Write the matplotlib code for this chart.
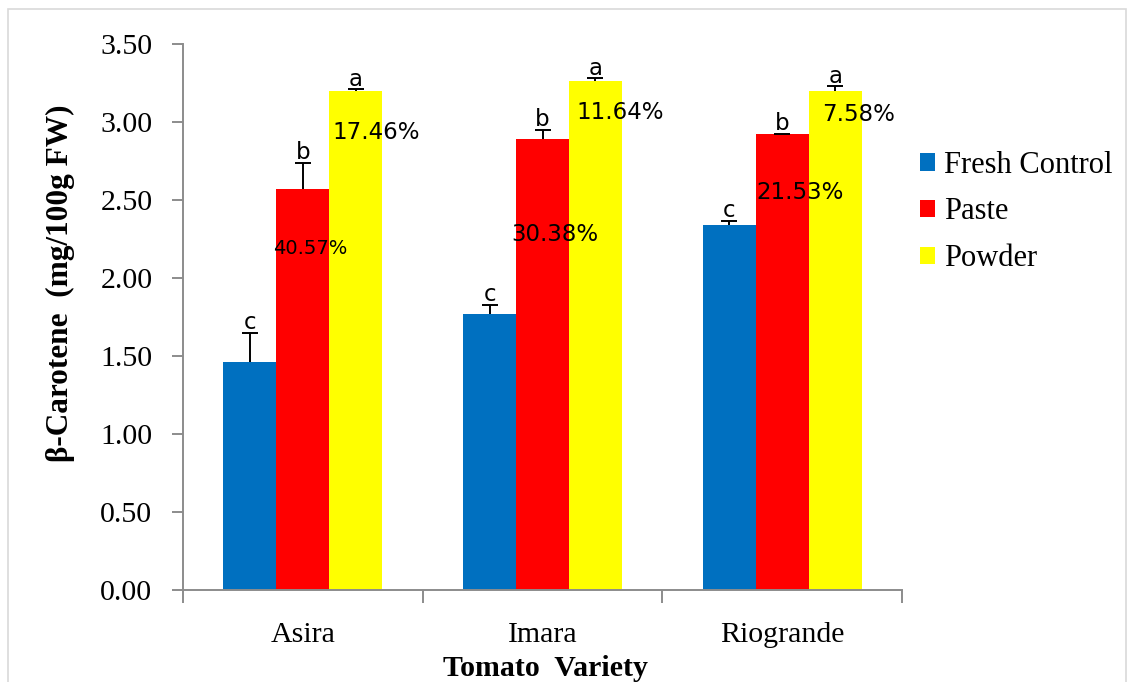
import matplotlib
matplotlib.use("Agg")
import matplotlib.pyplot as plt
import numpy as np
from matplotlib.patches import Rectangle

# Tomato varieties and treatments
varieties = ["Asira", "Imara", "Riogrande"]
treatments = ["Fresh Control", "Paste", "Powder"]

# Beta-carotene content (mg/100g FW), one list per treatment
fresh = [1.46, 1.77, 2.34]
paste = [2.57, 2.89, 2.92]
powder = [3.20, 3.26, 3.20]

# Standard errors (upper bars only)
fresh_err = [0.19, 0.06, 0.025]
paste_err = [0.17, 0.06, 0.005]
powder_err = [0.01, 0.02, 0.03]

# Significance letters
fresh_letters = ["c", "c", "c"]
paste_letters = ["b", "b", "b"]
powder_letters = ["a", "a", "a"]

# Percentage annotations: text, x (category units), y (data units), size
pct_labels = ["40.57%", "17.46%", "30.38%", "11.64%", "21.53%", "7.58%"]
pct_x = [0.03, 0.304, 1.05, 1.325, 2.075, 2.317]
pct_y = [2.19, 2.93, 2.28, 3.06, 2.545, 3.045]
pct_size = [14, 16.5, 16.5, 16.5, 16.5, 16.5]

yticks = [0.0, 0.5, 1.0, 1.5, 2.0, 2.5, 3.0, 3.5]

colors = ["#0070C0", "#FF0000", "#FFFF00"]
serif = ["Liberation Serif", "DejaVu Serif"]
tick_font = ["DejaVu Serif Condensed", "Liberation Serif", "DejaVu Serif"]

fig = plt.figure(figsize=(11.28, 6.82), dpi=100)
ax = fig.add_axes([183 / 1128, 1 - 590 / 682, (902 - 183) / 1128, (590 - 44) / 682])

x = np.arange(len(varieties))
width = 0.221
series = [(fresh, fresh_err, fresh_letters), (paste, paste_err, paste_letters),
          (powder, powder_err, powder_letters)]

for i, (vals, errs, letters) in enumerate(series):
    pos = x + (i - 1) * width
    ax.bar(pos, vals, width, color=colors[i], label=treatments[i], zorder=2)
    eb = ax.errorbar(pos, vals, yerr=[np.zeros(len(vals)), errs], fmt="none",
                     ecolor="black", elinewidth=1.4, capsize=6, capthick=1.4,
                     zorder=3)
    # keep only the upper cap
    eb[1][0].set_visible(False)
    for px, v, e, letter in zip(pos, vals, errs, letters):
        ax.annotate(letter, (px, v + e), xytext=(0, -1), textcoords="offset points",
                    ha="center", va="bottom", fontsize=16.5, family="DejaVu Sans",
                    zorder=4)

for t, tx, ty, fs in zip(pct_labels, pct_x, pct_y, pct_size):
    ax.text(tx, ty, t, ha="center", va="center", fontsize=fs,
            family="DejaVu Sans", color="black", zorder=5)

ax.set_xlim(-0.5, 2.5)
ax.set_ylim(0, 3.5)
ax.set_yticks(yticks)
ax.set_yticklabels([f"{v:.2f}" for v in yticks], family=tick_font, fontsize=21.5)
ax.set_xticks(x)
ax.set_xticklabels(varieties, family=serif, fontsize=21.5)
ax.set_xticks([-0.5, 0.5, 1.5, 2.5], minor=True)

spine_color = "#8c8c8c"
for side in ["top", "right"]:
    ax.spines[side].set_visible(False)
for side in ["left", "bottom"]:
    ax.spines[side].set_color(spine_color)
    ax.spines[side].set_linewidth(1.4)

ax.tick_params(axis="y", direction="out", length=8, width=1.4, color=spine_color, pad=14)
ax.tick_params(axis="x", which="major", length=0, pad=23)
ax.tick_params(axis="x", which="minor", direction="out", length=9, width=1.4,
               color=spine_color)

fig.text(60 / 1128, 1 - 283 / 682, "β-Carotene  (mg/100g FW)", rotation=90,
         ha="center", va="center", fontsize=22.5, fontweight="bold", family=serif)
fig.text(545 / 1128, 1 - 668 / 682, "Tomato  Variety", ha="center", va="center",
         fontsize=21.5, fontweight="bold", family=serif)

leg = fig.legend(loc="center left", bbox_to_anchor=(920 / 1128, 1 - 212 / 682),
                 frameon=False, prop={"family": serif, "size": 22},
                 handlelength=0.5, handleheight=0.5, handletextpad=0.3,
                 labelspacing=0.58, borderpad=0, borderaxespad=0)

# Light border around the figure
fig.patches.append(Rectangle((8 / 1128, -0.05), (1126 - 8) / 1128, 1.05 - 9 / 682,
                             transform=fig.transFigure, fill=False,
                             edgecolor="#d9d9d9", linewidth=1.2))

fig.savefig("out.png", dpi=100)
